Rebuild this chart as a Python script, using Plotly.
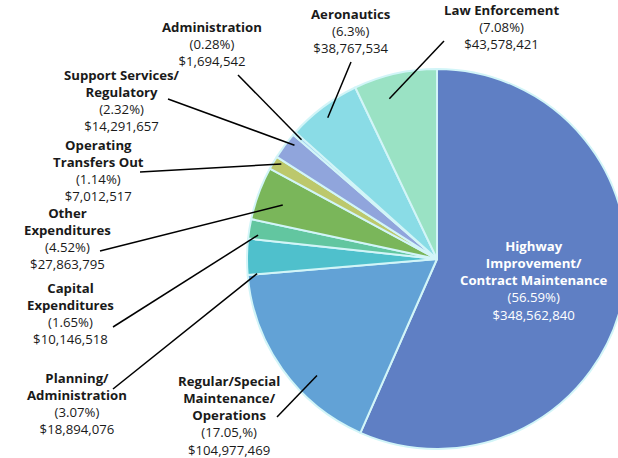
import math
import plotly.graph_objects as go

# ---- data ----
categories = ["Highway Improvement/Contract Maintenance",
              "Regular/Special Maintenance/Operations",
              "Planning/Administration",
              "Capital Expenditures",
              "Other Expenditures",
              "Operating Transfers Out",
              "Support Services/Regulatory",
              "Administration",
              "Aeronautics",
              "Law Enforcement"]
amounts = [348562840, 104977469, 18894076, 10146518, 27863795,
           7012517, 14291657, 1694542, 38767534, 43578421]
pct_labels = ["(56.59%)", "(17.05,%)", "(3.07%)", "(1.65%)", "(4.52%)",
              "(1.14%)", "(2.32%)", "(0.28%)", "(6.3%)", "(7.08%)"]
name_lines = [["Highway", "Improvement/", "Contract Maintenance"],
              ["Regular/Special", "Maintenance/", "Operations"],
              ["Planning/", "Administration"],
              ["Capital", "Expenditures"],
              ["Other", "Expenditures"],
              ["Operating", "Transfers Out"],
              ["Support Services/", "Regulatory"],
              ["Administration"],
              ["Aeronautics"],
              ["Law Enforcement"]]
colors = ["#5f7fc4", "#62a2d6", "#4fc0cc", "#62c6a0", "#7ab65a",
          "#bcc86c", "#90a5dc", "#a6d6f0", "#8adce6", "#9ae2c4"]

# ---- layout ----
W, H = 640, 458          # page window is 618 wide; the pie runs off the right edge like the reference
CX, CY, R = 437, 259, 190
FONT = "Open Sans"
LS = 16.5

# label block placement (center x, first line y) in px
label_pos = [(534, 247), (229, 382), (77, 379), (70, 289), (67, 214),
             (98, 146), (122, 76), (212, 28), (351, 14), (501, 11)]
# leader line tails (px), tip position within slice (angle fraction, radius fraction)
tails = [None, (277, 417), (113, 389), (113, 327), (100, 251),
         (140, 172), (168, 99), (238, 75), (351, 62), (444, 41)]
tips = [None, (0.36, 0.88), (0.02, 0.95), (0.24, 0.95), (0.44, 0.86),
        (0.73, 0.96), (0.73, 0.96), (0.5, 0.95), (0.46, 0.94), (0.35, 0.88)]

def px(x, y):
    return x / W, 1 - y / H

fig = go.Figure(go.Pie(
    labels=categories, values=amounts, sort=False, direction="clockwise",
    rotation=0, textinfo="none", hoverinfo="label+value+percent",
    marker=dict(colors=colors, line=dict(color="#d2f5f8", width=2)),
    domain=dict(x=[(CX - R) / W, (CX + R) / W],
                y=[1 - (CY + R) / H, 1 - (CY - R) / H]),
    showlegend=False,
))

total = sum(amounts)
cum = 0
shapes = []
annotations = []
for i, v in enumerate(amounts):
    a0 = cum / total * 360
    a1 = (cum + v) / total * 360
    cum += v
    lines = [f"<b>{t}</b>" for t in name_lines[i]] + [pct_labels[i], f"${v:,}"]
    color = "white" if i == 0 else "#1a1a1a"
    lx, ly = label_pos[i]
    x, y = px(lx, ly + (len(lines) - 1) * LS / 2)
    annotations.append(dict(x=x, y=y, xref="paper", yref="paper",
                            text="<br>".join(lines), borderpad=0,
                            showarrow=False, xanchor="center", yanchor="middle",
                            align="center",
                            font=dict(family=FONT, size=13.2, color=color)))
    if tails[i] is not None:
        tf, rf = tips[i]
        th = math.radians(a0 + tf * (a1 - a0))
        tx = CX + rf * R * math.sin(th)
        ty = CY - rf * R * math.cos(th)
        x0, y0 = px(*tails[i])
        x1, y1 = px(tx, ty)
        shapes.append(dict(type="line", xref="paper", yref="paper",
                           x0=x0, y0=y0, x1=x1, y1=y1,
                           line=dict(color="black", width=1.5)))

fig.update_layout(width=W, height=H, margin=dict(l=0, r=0, t=0, b=0),
                  paper_bgcolor="white", plot_bgcolor="white",
                  shapes=shapes, annotations=annotations)
fig.write_html("out.html", config={"displayModeBar": False},
               post_script="document.body.style.margin='0';"
                           "document.body.style.overflow='hidden';"
                           "document.documentElement.style.overflow='hidden';")
